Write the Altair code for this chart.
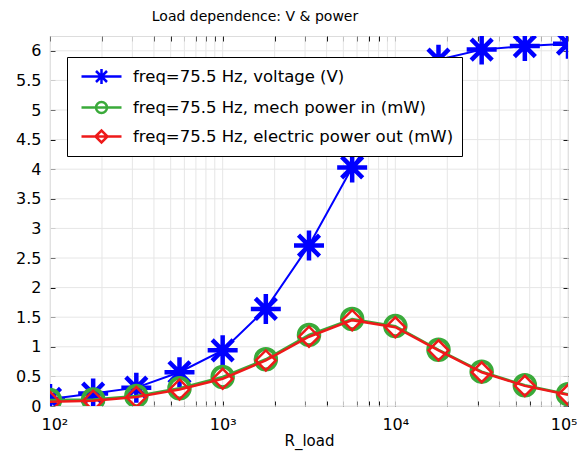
import altair as alt
import pandas as pd

# ---- data ----
r_load = [100, 177.8, 316.2, 562.3, 1000, 1778, 3162, 5623, 10000, 17783, 31623, 56234, 100000]
voltage = [0.12, 0.21, 0.31, 0.57, 0.94, 1.64, 2.71, 4.03, 5.10, 5.85, 6.02, 6.08, 6.12]
mech_power = [0.10, 0.11, 0.17, 0.30, 0.49, 0.79, 1.20, 1.47, 1.35, 0.95, 0.58, 0.35, 0.20]
elec_power = [0.07, 0.09, 0.15, 0.28, 0.46, 0.77, 1.17, 1.45, 1.33, 0.94, 0.57, 0.34, 0.19]

series_names = [
    "freq=75.5 Hz, voltage (V)",
    "freq=75.5 Hz, mech power in (mW)",
    "freq=75.5 Hz, electric power out (mW)",
]
series_colors = ["#0000ff", "#3aaa3a", "#ee1a1a"]

x_ticks = [100, 200, 300, 400, 500, 600, 700, 800, 900,
           1000, 2000, 3000, 4000, 5000, 6000, 7000, 8000, 9000,
           10000, 20000, 30000, 40000, 50000, 60000, 70000, 80000, 90000, 100000]
y_ticks = [0, 0.5, 1, 1.5, 2, 2.5, 3, 3.5, 4, 4.5, 5, 5.5, 6]

title_text = "Load dependence: V & power"
x_title = "R_load"

FONT = "DejaVu Sans"

df = pd.DataFrame({
    "R": r_load * 3,
    "value": voltage + mech_power + elec_power,
    "series": [series_names[0]] * len(r_load) + [series_names[1]] * len(r_load) + [series_names[2]] * len(r_load),
})
gx = pd.DataFrame({"x": x_ticks})
gy = pd.DataFrame({"y": y_ticks})

xscale = alt.Scale(type="log", domain=[100, 100000], nice=False)
yscale = alt.Scale(domain=[0, 6.25], nice=False, zero=False)

STAR = "M-1,0L1,0M0,-1L0,1M-0.7,-0.7L0.7,0.7M-0.7,0.7L0.7,-0.7"
LEG_STAR = "M-2,0L2,0M0,-0.75L0,0.75M-0.75,0L0.75,0M-0.55,-0.55L0.55,0.55M-0.55,0.55L0.55,-0.55"
LEG_CIRC = "M-2,0L2,0M0.55,0A0.55,0.55 0 1,1 -0.55,0A0.55,0.55 0 1,1 0.55,0Z"
LEG_DIAM = "M-2,0L2,0M-0.6,0L0,-0.6L0.6,0L0,0.6Z"

label_expr = ("datum.value == 100 ? '10²' : datum.value == 1000 ? '10³' : "
              "datum.value == 10000 ? '10⁴' : datum.value == 100000 ? '10⁵' : ''")

x_axis = alt.Axis(values=x_ticks, labelExpr=label_expr, orient="bottom", offset=-5,
                  tickSize=5, tickColor="black", tickWidth=1, domain=False, grid=False,
                  labelFont=FONT, labelFontSize=16, labelColor="black", labelPadding=10,
                  labelFlush=True, labelFlushOffset=9, labelOverlap=False,
                  title=x_title, titleFont=FONT, titleFontSize=15, titleFontWeight="normal",
                  titleColor="black", titlePadding=1)
y_axis = alt.Axis(values=y_ticks, format="~g", orient="left", offset=-5,
                  tickSize=5, tickColor="black", tickWidth=1, domain=False, grid=False,
                  labelFont=FONT, labelFontSize=16, labelColor="black", labelPadding=9,
                  labelFlush=False, labelOverlap=False, title=None)

X = alt.X("R:Q", scale=xscale, axis=x_axis)
Y = alt.Y("value:Q", scale=yscale, axis=y_axis)

grid_x = alt.Chart(gx).mark_rule(color="#e6e6e6", strokeWidth=1).encode(
    x=alt.X("x:Q", scale=xscale, axis=x_axis))
grid_y = alt.Chart(gy).mark_rule(color="#e6e6e6", strokeWidth=1).encode(
    y=alt.Y("y:Q", scale=yscale, axis=y_axis))

base = alt.Chart(df).encode(x=X, y=Y)

def sel(i):
    return base.transform_filter(alt.datum.series == series_names[i])

v_line = sel(0).mark_line(color=series_colors[0], strokeWidth=2, clip=True)
v_pts = sel(0).mark_point(shape=STAR, size=900, filled=False, color=series_colors[0],
                          strokeWidth=4.5, opacity=1, clip=True)
m_line = sel(1).mark_line(color=series_colors[1], strokeWidth=2.5, clip=True)
m_pts = sel(1).mark_point(shape="circle", size=420, filled=False, color=series_colors[1],
                          strokeWidth=4, opacity=1, clip=True)
e_line = sel(2).mark_line(color=series_colors[2], strokeWidth=2.5, clip=True)
e_pts = sel(2).mark_point(shape="diamond", size=400, filled=False, color=series_colors[2],
                          strokeWidth=2.5, opacity=1, clip=True)

leg = dict(orient="none", legendX=17, legendY=21, title=None,
           padding=8, fillColor="white", strokeColor="black",
           labelFont=FONT, labelFontSize=16.5, labelColor="black", labelLimit=0,
           symbolSize=400, symbolStrokeWidth=2.5, symbolOffset=15, labelOffset=20,
           rowPadding=7)

legend_layer = base.transform_filter("false").mark_point(filled=False, opacity=1).encode(
    color=alt.Color("series:N", sort=None,
                    scale=alt.Scale(domain=series_names, range=series_colors),
                    legend=alt.Legend(**leg)),
    shape=alt.Shape("series:N", sort=None,
                    scale=alt.Scale(domain=series_names, range=[LEG_STAR, LEG_CIRC, LEG_DIAM]),
                    legend=alt.Legend(**leg)),
)

main = alt.layer(grid_x, grid_y, v_line, v_pts, m_line, m_pts, e_line, e_pts, legend_layer)

tick_layer = alt.Chart(gx).transform_filter("false").mark_point(opacity=0).encode(
    x=alt.X("x:Q", scale=xscale,
            axis=alt.Axis(values=x_ticks, orient="top", offset=-5, tickSize=5, tickColor="black",
                          labels=False, domain=False, grid=False, title=None)),
    y=alt.Y("x:Q", scale=yscale,
            axis=alt.Axis(values=y_ticks, orient="right", offset=-5, tickSize=5, tickColor="black",
                          labels=False, domain=False, grid=False, title=None)),
)

chart = alt.layer(main, tick_layer).resolve_scale(x="independent", y="independent").properties(
    width=518, height=370,
    title=alt.TitleParams(title_text, font=FONT, fontSize=14, fontWeight="normal", color="black",
                          anchor="middle", dx=-54, offset=12),
    padding={"left": 50, "top": 36, "right": 9, "bottom": 45},
    autosize=alt.AutoSizeParams(type="none"),
).configure_view(stroke="black", strokeWidth=1.3).configure(background="white")

chart.save("out.html", embed_options={"renderer": "svg", "actions": False})
